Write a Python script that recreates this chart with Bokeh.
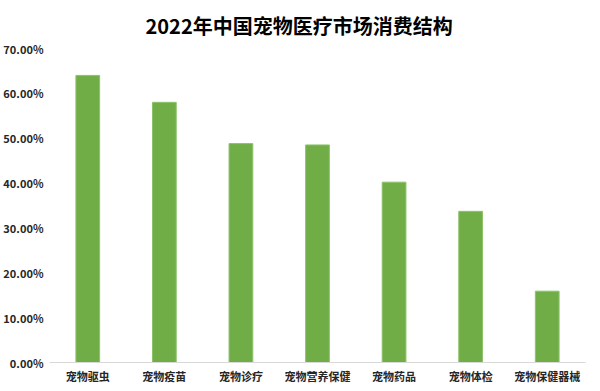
from bokeh.plotting import figure
from bokeh.models import ColumnDataSource, Range1d, NumeralTickFormatter, FixedTicker
from bokeh.embed import file_html
from bokeh.resources import INLINE

categories = ["宠物驱虫", "宠物疫苗", "宠物诊疗", "宠物营养保健", "宠物药品", "宠物体检", "宠物保健器械"]
shares = [0.640, 0.580, 0.488, 0.485, 0.402, 0.337, 0.159]
y_ticks = [0.0, 0.1, 0.2, 0.3, 0.4, 0.5, 0.6, 0.7]
title_text = "2022年中国宠物医疗市场消费结构"

FONT = "Noto Sans CJK SC"

src = ColumnDataSource(dict(cat=categories, val=shares))

p = figure(
    x_range=categories,
    y_range=Range1d(0, 0.70),
    frame_width=536, frame_height=314,
    output_backend="svg", toolbar_location=None,
    min_border_left=44, min_border_right=4, min_border_top=40, min_border_bottom=20,
    title=title_text,
)
p.x_range.range_padding = 0
p.title.align = "left"
p.title.text_font = FONT
p.title.text_font_size = "20px"
p.title.text_font_style = "bold"
p.title.text_color = "#000000"
p.title.standoff = 17
p.title.offset = 96

p.vbar(x="cat", top="val", width=0.31, source=src, fill_color="#70AD47", line_color="#8cc26a", line_width=1)

p.outline_line_color = None
p.xgrid.grid_line_color = None
p.ygrid.grid_line_color = None

p.yaxis.ticker = FixedTicker(ticks=y_ticks)
p.yaxis.formatter = NumeralTickFormatter(format="0.00%")
p.yaxis.axis_line_color = None
p.yaxis.major_tick_line_color = None
p.yaxis.minor_tick_line_color = None
p.yaxis.major_tick_out = 0
p.yaxis.major_tick_in = 0
p.yaxis.minor_tick_out = 0
p.yaxis.major_label_standoff = 6
p.yaxis.major_label_text_font = FONT
p.yaxis.major_label_text_font_size = "11px"
p.yaxis.major_label_text_font_style = "bold"
p.yaxis.major_label_text_color = "#262626"

p.xaxis.axis_line_color = "#d9d9d9"
p.xaxis.axis_line_width = 1
p.xaxis.major_tick_line_color = None
p.xaxis.minor_tick_line_color = None
p.xaxis.major_tick_out = 0
p.xaxis.major_tick_in = 0
p.xaxis.minor_tick_out = 0
p.xaxis.major_label_standoff = 5
p.xaxis.major_label_text_font = FONT
p.xaxis.major_label_text_font_size = "11px"
p.xaxis.major_label_text_font_style = "bold"
p.xaxis.major_label_text_color = "#262626"

open("out.html", "w").write(file_html(p, INLINE))
